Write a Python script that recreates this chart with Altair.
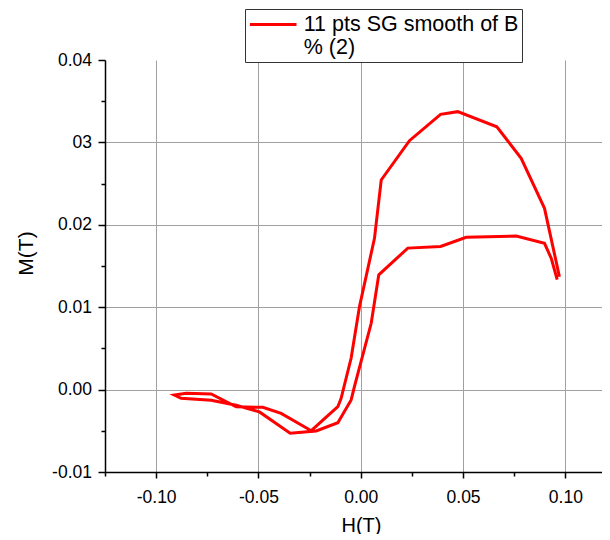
import altair as alt
import pandas as pd

# Hysteresis loop (H in tesla, M in tesla), in drawing order
h_values = [0.0971, 0.0898, 0.0784, 0.0665, 0.0474, 0.0390, 0.0238, 0.0100, 0.0067,
            -0.0006, -0.0047, -0.0096, -0.0112, -0.0242, -0.0389, -0.0479, -0.0609,
            -0.0731, -0.0853, -0.0911, -0.0878, -0.0731, -0.0609, -0.0495, -0.0345,
            -0.0218, -0.0112, -0.0047, -0.0031, 0.0051, 0.0088, 0.0230, 0.0390,
            0.0515, 0.0760, 0.0898, 0.0931, 0.0960]
m_values = [0.01370, 0.02200, 0.02807, 0.03190, 0.03373, 0.03341, 0.03021, 0.02544, 0.01836,
            0.01010, 0.00383, -0.00106, -0.00208, -0.00499, -0.00288, -0.00215, -0.00208,
            -0.00053, -0.00045, -0.00066, -0.00106, -0.00130, -0.00190, -0.00271, -0.00530,
            -0.00502, -0.00402, -0.00126, 0.00035, 0.00805, 0.01393, 0.01717, 0.01737,
            0.01848, 0.01864, 0.01775, 0.01593, 0.01335]
series_name = "11 pts SG smooth of B|% (2)"

x_major = [-0.10, -0.05, 0.0, 0.05, 0.10]
x_minor = [-0.125, -0.075, -0.025, 0.025, 0.075]
x_labels = ["-0.10", "-0.05", "0.00", "0.05", "0.10"]
y_major = [-0.01, 0.0, 0.01, 0.02, 0.03, 0.04]
y_minor = [-0.005, 0.005, 0.015, 0.025, 0.035]
y_labels = ["-0.01", "0.00", "0.01", "0.02", "03", "0.04"]
y_grid = [0.0, 0.01, 0.02, 0.03]

df = pd.DataFrame({"H": h_values, "M": m_values, "order": list(range(len(h_values))),
                   "series": series_name})


def label_expr(values, labels):
    expr = "''"
    for v, lab in reversed(list(zip(values, labels))):
        expr = f"abs(datum.value - ({v})) < 1e-9 ? '{lab}' : ({expr})"
    return expr


def any_test(values):
    return " || ".join(f"abs(datum.value - ({v})) < 1e-9" for v in values)


FONT = "Liberation Sans"

x_axis = alt.Axis(
    values=sorted(x_major + x_minor),
    labelExpr=label_expr(x_major, x_labels),
    title="H(T)", titleFont=FONT, titleFontSize=20, titleFontWeight="normal",
    titleColor="black", titleX=256, titleY=53, titleBaseline="middle", titleAlign="center",
    labelFont=FONT, labelFontSize=17.5, labelColor="black", labelPadding=10,
    labelFlush=False, labelOverlap=False,
    domainColor="black", domainWidth=1.5,
    tickColor="black", tickWidth=1.5,
    tickSize={"condition": {"test": any_test(x_major), "value": 6}, "value": 4},
    grid=True, gridColor="#a0a0a0", gridWidth=1,
    gridOpacity={"condition": {"test": any_test(x_major), "value": 1}, "value": 0},
)
y_axis = alt.Axis(
    values=sorted(y_major + y_minor),
    labelExpr=label_expr(y_major, y_labels),
    title="M(T)", titleFont=FONT, titleFontSize=21, titleFontWeight="normal",
    titleColor="black", titleAngle=270, titleX=-78.5, titleY=193,
    titleBaseline="middle", titleAlign="center",
    labelFont=FONT, labelFontSize=17.5, labelColor="black", labelPadding=6.5,
    labelFlush=False, labelOverlap=False,
    domainColor="black", domainWidth=1.5,
    tickColor="black", tickWidth=1.5,
    tickSize={"condition": {"test": any_test(y_major), "value": 7}, "value": 4},
    grid=True, gridColor="#a0a0a0", gridWidth=1,
    gridOpacity={"condition": {"test": any_test(y_grid), "value": 1}, "value": 0},
)

chart = alt.Chart(df).mark_line(strokeWidth=3, clip=True).encode(
    x=alt.X("H:Q", scale=alt.Scale(domain=[-0.125, 0.1179], nice=False, zero=False), axis=x_axis),
    y=alt.Y("M:Q", scale=alt.Scale(domain=[-0.01, 0.04], nice=False, zero=False), axis=y_axis),
    order="order:Q",
    color=alt.Color("series:N", scale=alt.Scale(range=["#ff0000"]),
                    legend=alt.Legend(
                        title=None, orient="none", legendX=140, legendY=-51,
                        labelExpr="split(datum.label, '|')",
                        labelFont=FONT, labelFontSize=21.5, labelColor="black",
                        labelLimit=400, labelOffset=18, labelBaseline="middle",
                        symbolType="M-2.12,0H2.12", symbolSize=484, symbolStrokeWidth=3,
                        symbolOffset=12.7,
                        padding=3, strokeColor="#333333", fillColor="white",
                    )),
).properties(
    width=497, height=412,
    autosize=alt.AutoSizeParams(type="none"),
    padding={"left": 97, "top": 52, "right": 0, "bottom": 62},
).configure_view(stroke=None)

chart.save("out.html", embed_options={"renderer": "svg", "actions": False})
